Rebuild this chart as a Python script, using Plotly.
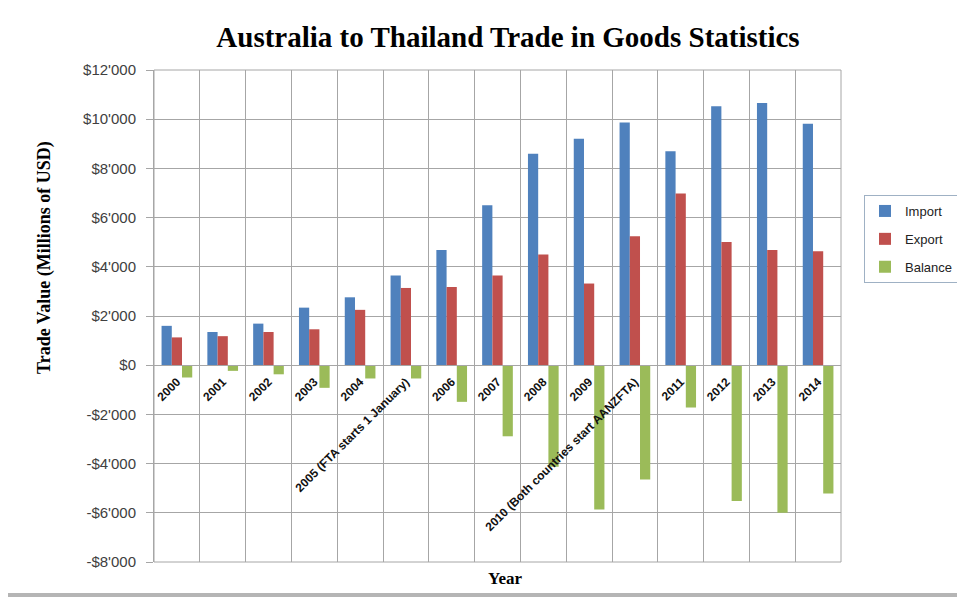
import plotly.graph_objects as go

years = ["2000", "2001", "2002", "2003", "2004", "2005 (FTA starts 1 January)", "2006", "2007",
         "2008", "2009", "2010 (Both countries start AANZFTA)", "2011", "2012", "2013", "2014"]
imports = [1600, 1350, 1690, 2340, 2760, 3650, 4680, 6500, 8600, 9210, 9870, 8700, 10530, 10660, 9820]
exports = [1130, 1180, 1350, 1460, 2250, 3140, 3180, 3650, 4500, 3320, 5240, 6980, 5010, 4680, 4630]
balance = [-500, -230, -370, -920, -540, -540, -1490, -2890, -4130, -5870, -4650, -1720, -5520, -6000, -5220]

y_tickvals = [-8000, -6000, -4000, -2000, 0, 2000, 4000, 6000, 8000, 10000, 12000]
y_ticktext = ["-$8'000", "-$6'000", "-$4'000", "-$2'000", "$0", "$2'000", "$4'000",
              "$6'000", "$8'000", "$10'000", "$12'000"]

# page body has an 8px margin; lay out in reference pixel coordinates minus that offset
OFF = 8
W, H = 965 - OFF, 597 - OFF
L, T = 154 - OFF, 70 - OFF
R, B = W - (841 - OFF), H - (562 - OFF)
PW, PH = W - L - R, H - T - B


def px(xr):
    return (xr - OFF - L) / PW


def py(yr):
    return 1 - (yr - OFF - T) / PH


fig = go.Figure()
fig.add_trace(go.Bar(x=years, y=imports, name="Import", marker_color="#4f81bd",
                     legendgroup="a", marker_line_width=0))
fig.add_trace(go.Bar(x=years, y=exports, name="Export", marker_color="#c0504d",
                     legendgroup="b", marker_line_width=0))
fig.add_trace(go.Bar(x=years, y=balance, name="Balance", marker_color="#9bbb59",
                     legendgroup="c", marker_line_width=0))

grid = "#a6a6a6"
ymin, ymax = -8000, 12000
zero_pos = (0 - ymin) / (ymax - ymin)

fig.update_layout(
    width=W, height=H,
    margin=dict(l=L, r=R, t=T, b=B, autoexpand=False),
    paper_bgcolor="white", plot_bgcolor="white",
    barmode="group", bargap=0.33, bargroupgap=0,
    title=dict(text="<b>Australia to Thailand Trade in Goods Statistics</b>",
               x=(508 - OFF) / W, y=1 - (37 - OFF) / H, xanchor="center", yanchor="middle",
               font=dict(family="Liberation Serif", size=29, color="black")),
    xaxis=dict(type="category", tickson="boundaries", showgrid=True, gridcolor=grid, gridwidth=1,
               anchor="free", position=zero_pos, showline=True, linecolor=grid, linewidth=1,
               ticks="", tickangle=-45, ticklabelstandoff=4, automargin=False,
               tickfont=dict(family="Liberation Sans", size=12, color="#111111", weight="bold"),
               range=[-0.5, len(years) - 0.5], zeroline=False),
    yaxis=dict(range=[ymin, ymax], tickvals=y_tickvals, ticktext=y_ticktext,
               showgrid=True, gridcolor=grid, gridwidth=1, zeroline=True, zerolinecolor=grid,
               zerolinewidth=1, showline=True, linecolor=grid, linewidth=1, automargin=False,
               ticks="outside", ticklen=7, tickcolor=grid, ticklabelstandoff=7,
               tickfont=dict(family="Liberation Sans", size=15, color="#404040")),
    legend=dict(x=px(864), y=py(195), xanchor="left", yanchor="top",
                bordercolor="#9fb1c4", borderwidth=1, bgcolor="white",
                font=dict(family="Liberation Sans", size=13, color="#222222"),
                traceorder="grouped", tracegroupgap=8, itemwidth=30),
    shapes=[
        dict(type="rect", xref="paper", yref="paper", x0=0, x1=1, y0=0, y1=1,
             line=dict(color=grid, width=1), layer="below"),
        dict(type="rect", xref="paper", yref="paper", x0=px(OFF), x1=px(965), y0=py(593), y1=py(597),
             line_width=0, fillcolor="#b5b5b5"),
    ],
    annotations=[
        dict(text="<b>Trade Value (Millions of USD)</b>", xref="paper", yref="paper",
             x=px(45), y=py(258), textangle=-90, showarrow=False,
             xanchor="center", yanchor="middle",
             font=dict(family="Liberation Serif", size=18, color="black")),
        dict(text="<b>Year</b>", xref="paper", yref="paper", x=px(505), y=py(578),
             showarrow=False, xanchor="center", yanchor="middle",
             font=dict(family="Liberation Serif", size=17, color="black")),
    ],
)

fig.write_html("out.html")
